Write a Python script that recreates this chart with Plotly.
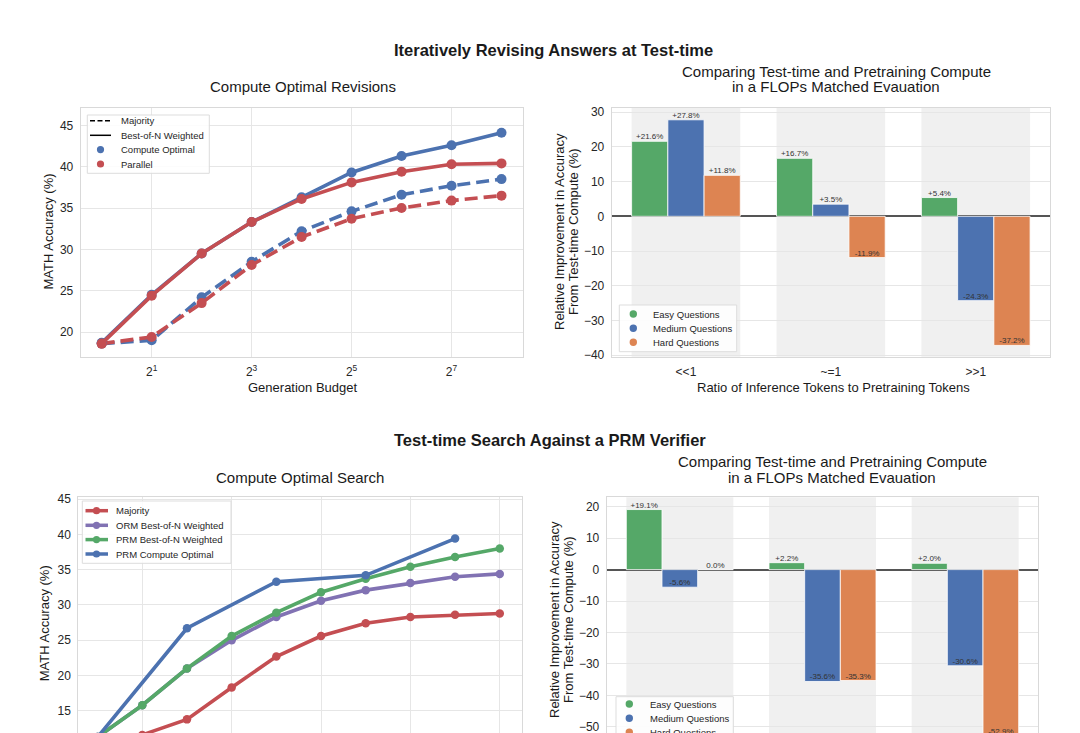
import plotly.graph_objects as go

W, H = 1080, 760   # figure is taller than the 733px window; the bottom is cropped like the reference
FONT = "Liberation Sans, Arial, sans-serif"

# ---------------- data ----------------
rev_budget = [1, 2, 4, 8, 16, 32, 64, 128, 256]
rev_co_weighted = [18.7, 24.5, 29.5, 33.3, 36.3, 39.3, 41.3, 42.6, 44.1]
rev_par_weighted = [18.6, 24.4, 29.5, 33.3, 36.1, 38.1, 39.4, 40.3, 40.4]
rev_co_majority = [18.6, 19.0, 24.2, 28.5, 32.2, 34.6, 36.6, 37.7, 38.5]
rev_par_majority = [18.6, 19.4, 23.5, 28.1, 31.5, 33.7, 35.0, 35.9, 36.5]

ratio_categories = ["<<1", "~=1", ">>1"]
rev_easy = [21.6, 16.7, 5.4]
rev_medium = [27.8, 3.5, -24.3]
rev_hard = [11.8, -11.9, -37.2]

search_budget = [1, 2, 4, 8, 16, 32, 64, 128, 256, 512]
search_majority = [None, 11.6, 13.8, 18.3, 22.7, 25.6, 27.4, 28.3, 28.6, 28.8]
search_orm = [11.3, 15.8, 21.0, 25.0, 28.3, 30.6, 32.1, 33.1, 34.0, 34.4]
search_prm = [11.3, 15.8, 21.0, 25.6, 28.9, 31.8, 33.7, 35.4, 36.8, 38.0]
prm_co_budget = [1, 4, 16, 64, 256]
search_prm_co = [11.3, 26.7, 33.3, 34.2, 39.4]

search_easy = [19.1, 2.2, 2.0]
search_medium = [-5.6, -35.6, -30.6]
search_hard = [0.0, -35.3, -52.9]

rev_xticks = [2, 8, 32, 128]
rev_xticktext = ["2<sup>1</sup>", "2<sup>3</sup>", "2<sup>5</sup>", "2<sup>7</sup>"]
search_xticks = [2, 8, 32, 128, 512]
search_xticktext = ["2<sup>1</sup>", "2<sup>3</sup>", "2<sup>5</sup>", "2<sup>7</sup>", "2<sup>9</sup>"]

question_labels = ["Easy Questions", "Medium Questions", "Hard Questions"]
rev_legend_labels = ["Majority", "Best-of-N Weighted", "Compute Optimal", "Parallel"]
search_legend_labels = ["Majority", "ORM Best-of-N Weighted", "PRM Best-of-N Weighted", "PRM Compute Optimal"]

# ---------------- style ----------------
BLUE = "#4C72B0"
RED = "#C44E52"
GREEN = "#55A868"
PURPLE = "#8172B3"
ORANGE = "#DD8452"
GRID = "#e6e6e6"
EDGE = "#d9d9d9"
TXT = "#262626"
BAND = "#f0f0f0"

fig = go.Figure()


def px2x(px):
    return px / W


def py2y(py):
    return 1 - py / H


# ---------- top-left: revisions ----------
line_w = 3.6
mk = 10
for vals, color, dash in [
    (rev_co_majority, BLUE, "13px,6px"),
    (rev_par_majority, RED, "13px,6px"),
    (rev_co_weighted, BLUE, "solid"),
    (rev_par_weighted, RED, "solid"),
]:
    fig.add_trace(go.Scatter(
        x=rev_budget, y=vals, mode="lines+markers",
        line=dict(color=color, width=line_w, dash=dash),
        marker=dict(color=color, size=mk),
        xaxis="x", yaxis="y", showlegend=False))

# ---------- bottom-left: search ----------
for xs, vals, color in [
    (search_budget, search_majority, RED),
    (search_budget, search_orm, PURPLE),
    (search_budget, search_prm, GREEN),
    (prm_co_budget, search_prm_co, BLUE),
]:
    fig.add_trace(go.Scatter(
        x=xs, y=vals, mode="lines+markers",
        line=dict(color=color, width=3.6),
        marker=dict(color=color, size=8.5),
        xaxis="x3", yaxis="y3", showlegend=False))


# ---------- bar charts ----------
def fmt(v):
    if v > 0:
        return "+%.1f%%" % v
    return "%.1f%%" % v


def add_bars(xa, ya, series):
    n = len(ratio_categories)
    for j, (vals, color) in enumerate(series):
        off = (j - 1) * 0.25
        xs = [i + off for i in range(n)]
        fig.add_trace(go.Bar(
            x=xs, y=vals, width=0.25,
            marker=dict(color=color, line=dict(color="white", width=0.8)),
            xaxis=xa, yaxis=ya, showlegend=False))
        fig.add_trace(go.Scatter(
            x=xs, y=vals, mode="text", text=[fmt(v) for v in vals],
            textposition="top center",
            textfont=dict(size=8, color="#333333", family=FONT),
            cliponaxis=False, hoverinfo="skip",
            xaxis=xa, yaxis=ya, showlegend=False))
    for i in range(n):
        fig.add_shape(type="rect", xref=xa, yref=ya + " domain",
                      x0=i - 0.375, x1=i + 0.375, y0=0, y1=1,
                      fillcolor=BAND, line=dict(width=0), layer="below")


add_bars("x2", "y2", [(rev_easy, GREEN), (rev_medium, BLUE), (rev_hard, ORANGE)])
add_bars("x4", "y4", [(search_easy, GREEN), (search_medium, BLUE), (search_hard, ORANGE)])

# ---------- axes ----------
base = dict(showline=True, mirror=True, linecolor=EDGE, linewidth=1,
            gridcolor=GRID, gridwidth=1, zeroline=False, automargin=False,
            ticks="outside", ticklen=4, tickcolor="rgba(0,0,0,0)",
            ticklabeloverflow="allow",
            tickfont=dict(size=12, color=TXT, family=FONT), fixedrange=True)

tick_cats = [c.replace("<", "&lt;").replace(">", "&gt;") for c in ratio_categories]

fig.update_layout(
    xaxis=dict(base, domain=[80.7 / W, 523 / W], anchor="y", type="log",
               range=[-0.1264, 2.5377], tickvals=rev_xticks, ticktext=rev_xticktext),
    yaxis=dict(base, domain=[py2y(357), py2y(108)], anchor="x",
               range=[16.98, 47.1], tickvals=[20, 25, 30, 35, 40, 45]),
    xaxis2=dict(base, domain=[611.7 / W, 1050 / W], anchor="y2",
                range=[-0.5125, 2.5125], tickvals=[0, 1, 2], ticktext=tick_cats,
                showgrid=False),
    yaxis2=dict(base, domain=[py2y(356.7), py2y(108)], anchor="x2",
                range=[-40.45, 31.2], tickvals=[-40, -30, -20, -10, 0, 10, 20, 30],
                zeroline=True, zerolinecolor="#555555", zerolinewidth=1.5),
    xaxis3=dict(base, domain=[78.3 / W, 521.7 / W], anchor="y3", type="log",
                range=[-0.130, 2.857], tickvals=search_xticks, ticktext=search_xticktext),
    yaxis3=dict(base, domain=[py2y(747.2), py2y(496.7)], anchor="x3",
                range=[9.86, 45.33], tickvals=[10, 15, 20, 25, 30, 35, 40, 45]),
    xaxis4=dict(base, domain=[606.7 / W, 1038.3 / W], anchor="y4",
                range=[-0.5125, 2.5125], tickvals=[0, 1, 2], ticktext=tick_cats,
                showgrid=False),
    yaxis4=dict(base, domain=[py2y(747.2), py2y(497.3)], anchor="x4",
                range=[-56.5, 23.0], tickvals=[-50, -40, -30, -20, -10, 0, 10, 20],
                zeroline=True, zerolinecolor="#555555", zerolinewidth=1.5),
)

# ---------- text ----------
def text(s, cx, cy, size, angle=0, bold=False, anchor="center"):
    fig.add_annotation(x=px2x(cx), y=py2y(cy), xref="paper", yref="paper",
                       text=("<b>%s</b>" % s) if bold else s, showarrow=False,
                       xanchor=anchor, yanchor="middle", textangle=angle,
                       font=dict(size=size, color="#1a1a1a", family=FONT))


text("Iteratively Revising Answers at Test-time", 553, 50, 16.5, bold=True)
text("Compute Optimal Revisions", 303, 87, 15)
text("Comparing Test-time and Pretraining Compute", 836, 71, 15)
text("in a FLOPs Matched Evauation", 836, 87, 15)
text("MATH Accuracy (%)", 47.5, 232, 13, angle=-90)
text("Generation Budget", 303, 387, 13)
text("Relative Improvement in Accuracy", 559, 232, 13, angle=-90)
text("From Test-time Compute (%)", 573, 232, 13, angle=-90)
text("Ratio of Inference Tokens to Pretraining Tokens", 833, 387, 13)

text("Test-time Search Against a PRM Verifier", 550, 440, 16.5, bold=True)
text("Compute Optimal Search", 300, 477, 15)
text("Comparing Test-time and Pretraining Compute", 832, 461, 15)
text("in a FLOPs Matched Evauation", 832, 477, 15)
text("MATH Accuracy (%)", 44.3, 623, 13, angle=-90)
text("Relative Improvement in Accuracy", 554, 620, 13, angle=-90)
text("From Test-time Compute (%)", 568, 620, 13, angle=-90)


# ---------- legends (drawn) ----------
def legend_box(x0, y0, x1, y1):
    fig.add_shape(type="rect", xref="paper", yref="paper",
                  x0=px2x(x0), x1=px2x(x1), y0=py2y(y1), y1=py2y(y0),
                  line=dict(color="#dddddd", width=1),
                  fillcolor="rgba(255,255,255,0.85)", layer="above")


def legend_circle(cx, cy, r, color):
    fig.add_shape(type="circle", xref="paper", yref="paper",
                  x0=px2x(cx - r), x1=px2x(cx + r), y0=py2y(cy + r), y1=py2y(cy - r),
                  fillcolor=color, line=dict(width=0), layer="above")


def legend_line(x0, x1, cy, color, width, dash="solid"):
    fig.add_shape(type="line", xref="paper", yref="paper",
                  x0=px2x(x0), x1=px2x(x1), y0=py2y(cy), y1=py2y(cy),
                  line=dict(color=color, width=width, dash=dash), layer="above")


def legend_text(s, x, cy):
    fig.add_annotation(x=px2x(x), y=py2y(cy), xref="paper", yref="paper",
                       text=s, showarrow=False, xanchor="left", yanchor="middle",
                       font=dict(size=9.5, color=TXT, family=FONT))


# top-left legend
legend_box(87.3, 115, 209.3, 173.3)
rows = [120.7, 135.3, 149.6, 164.0]
legend_line(90, 111, rows[0], "black", 1.5, "5px,2.5px")
legend_line(90, 111, rows[1], "black", 1.5)
legend_circle(100.5, rows[2], 3.6, BLUE)
legend_circle(100.5, rows[3], 3.6, RED)
for lab, cy in zip(rev_legend_labels, rows):
    legend_text(lab, 118.5, cy)

# top-right legend
legend_box(619.3, 305, 736.7, 351.7)
rows = [314.0, 328.3, 342.3]
for lab, cy, col in zip(question_labels, rows, [GREEN, BLUE, ORANGE]):
    legend_circle(633.3, cy, 3.7, col)
    legend_text(lab, 650.5, cy)

# bottom-left legend
legend_box(82.3, 501, 231, 563.3)
rows = [510.7, 525.3, 539.6, 554.0]
for lab, cy, col in zip(search_legend_labels, rows, [RED, PURPLE, GREEN, BLUE]):
    legend_line(85.5, 108, cy, col, 3.5)
    legend_circle(96.5, cy, 3.6, col)
    legend_text(lab, 114.3, cy)

# bottom-right legend
legend_box(616, 696.7, 733.3, 743.5)
rows = [704.0, 718.3, 732.3]
for lab, cy, col in zip(question_labels, rows, [GREEN, BLUE, ORANGE]):
    legend_circle(629.3, cy, 3.7, col)
    legend_text(lab, 647.5, cy)

fig.update_layout(
    width=W, height=H, template="none",
    margin=dict(l=0, r=0, t=0, b=0),
    paper_bgcolor="white", plot_bgcolor="white",
    barmode="overlay", showlegend=False,
    font=dict(family=FONT, color=TXT),
)

fig.write_html(
    "out.html",
    config={"displayModeBar": False},
    post_script="document.body.style.margin='0';document.body.style.overflow='hidden';",
)
